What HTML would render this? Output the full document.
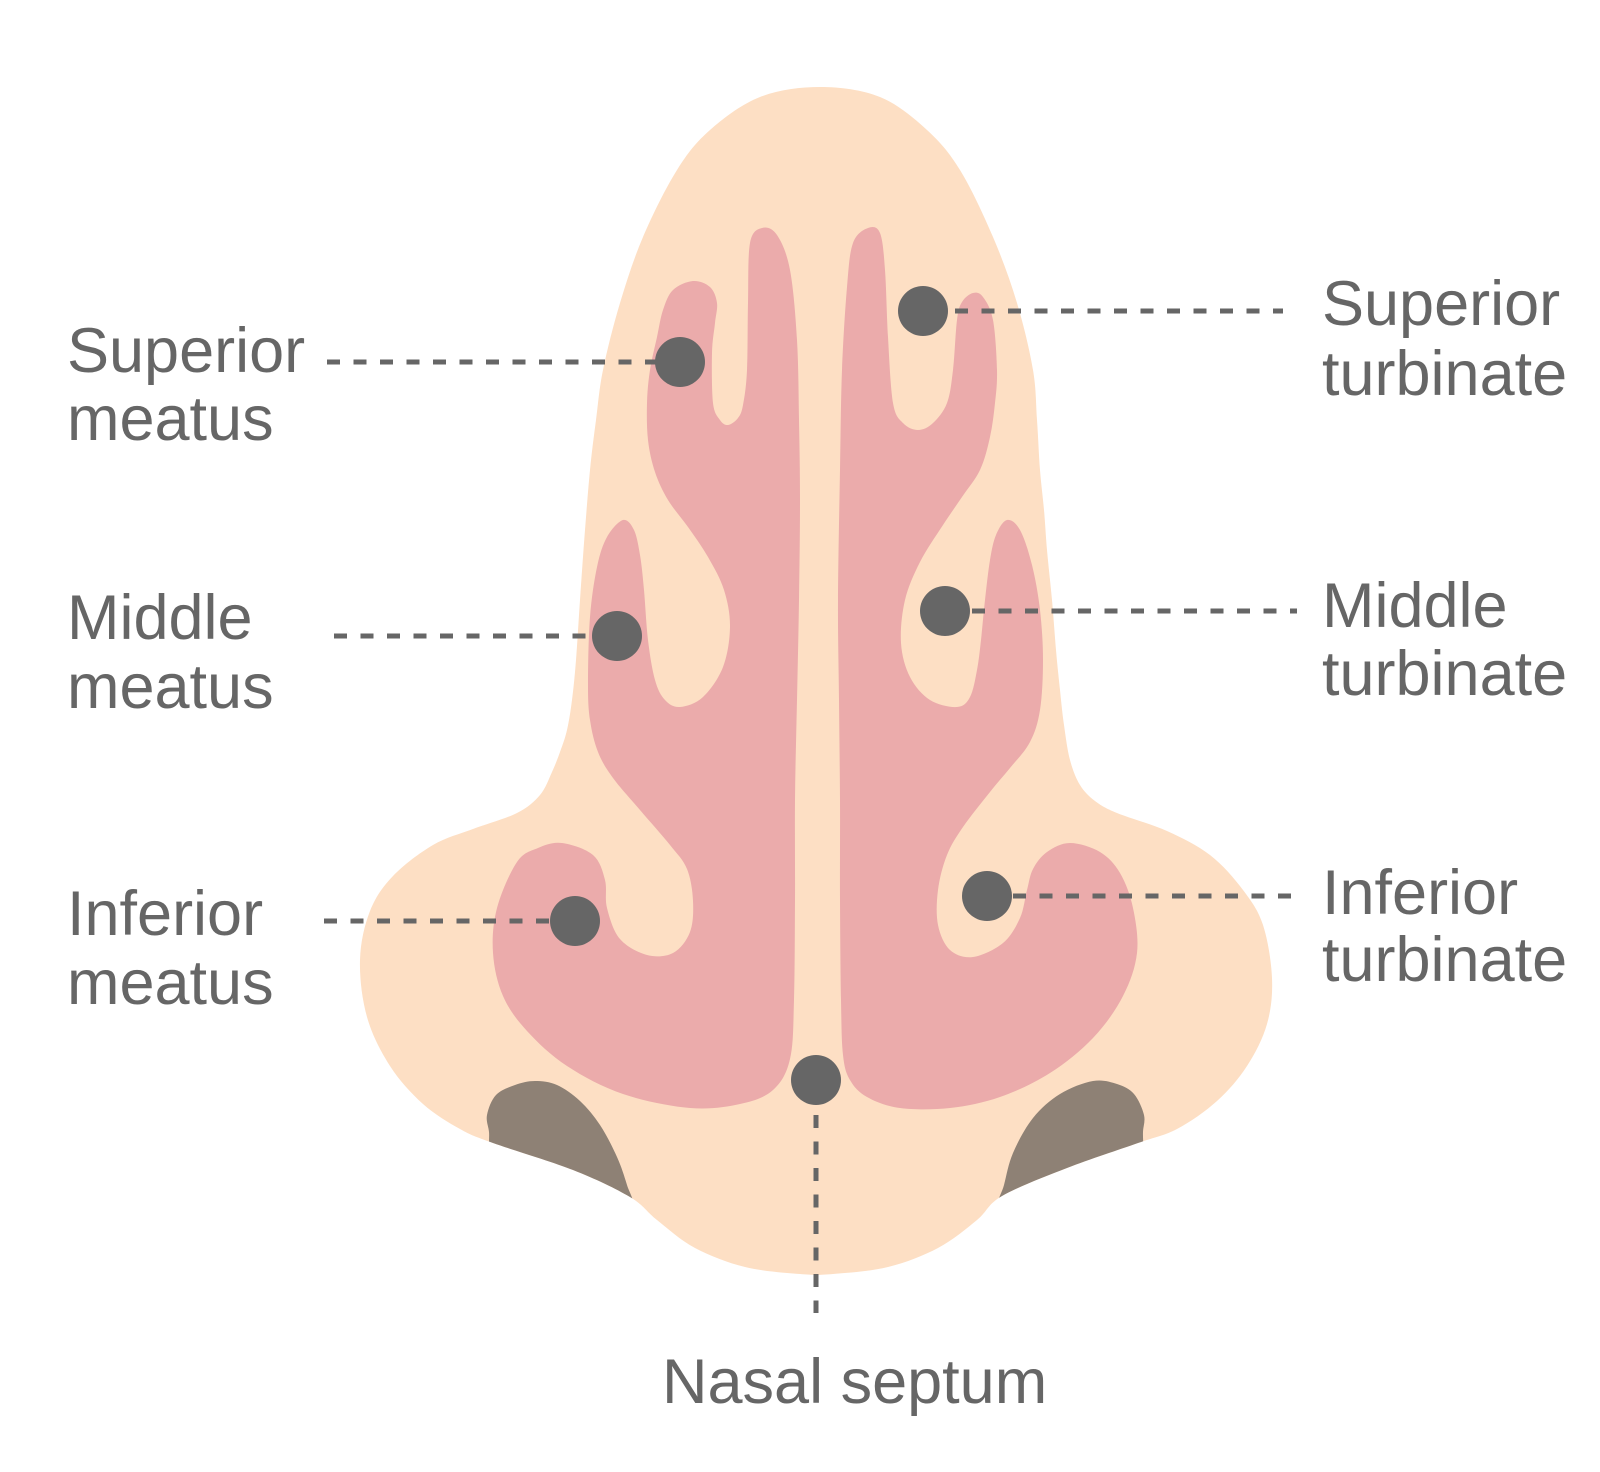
<!DOCTYPE html>
<html>
<head>
<meta charset="utf-8">
<style>
  html,body{margin:0;padding:0;background:#ffffff;width:1600px;height:1472px;overflow:hidden;}
  svg{display:block;}
  text{font-family:"Liberation Sans","DejaVu Sans",sans-serif;fill:#666666;font-size:63px;}
</style>
</head>
<body>
<svg width="1600" height="1472" viewBox="0 0 1600 1472" xmlns="http://www.w3.org/2000/svg">
  <defs>
    <clipPath id="nc">
      <path class="smooth" d="M820,87 L880,97 L927,130 L960,170 L993,237 L1017,303 L1033,370 L1037,420 L1040,470 L1044,510 L1047,550 L1052,600 L1056,650 L1060,690 L1064,725 L1070,760 L1080,785 L1095,801 L1117,813 L1167,831 L1210,855 L1243,890 L1263,925 L1272,978 L1267,1024 L1247,1066 L1217,1101 L1177,1129 L1138,1143 L1067,1168 L1002,1196 L977,1220 L938,1248 L888,1267 L833,1274 L800,1274 L745,1267 L695,1248 L657,1220 L630,1197 L573,1170 L493,1143 L460,1129 L423,1104 L390,1066 L367,1017 L360,960 L370,911 L393,876 L433,845 L473,829 L517,813 L540,795 L552,772 L560,752 L567,730 L572,700 L576,660 L580,600 L585,530 L590,470 L596,420 L603,370 L620,303 L643,237 L677,170 L710,130 L760,97 Z"/>
    </clipPath>
  </defs>

  <!-- outer nose -->
  <path class="smooth" fill="#FDDFC4" d="M820,87 L880,97 L927,130 L960,170 L993,237 L1017,303 L1033,370 L1037,420 L1040,470 L1044,510 L1047,550 L1052,600 L1056,650 L1060,690 L1064,725 L1070,760 L1080,785 L1095,801 L1117,813 L1167,831 L1210,855 L1243,890 L1263,925 L1272,978 L1267,1024 L1247,1066 L1217,1101 L1177,1129 L1138,1143 L1067,1168 L1002,1196 L977,1220 L938,1248 L888,1267 L833,1274 L800,1274 L745,1267 L695,1248 L657,1220 L630,1197 L573,1170 L493,1143 L460,1129 L423,1104 L390,1066 L367,1017 L360,960 L370,911 L393,876 L433,845 L473,829 L517,813 L540,795 L552,772 L560,752 L567,730 L572,700 L576,660 L580,600 L585,530 L590,470 L596,420 L603,370 L620,303 L643,237 L677,170 L710,130 L760,97 Z"/>

  <!-- left pink -->
  <path class="smooth" fill="#EBABAB" d="M762,228 L777,235 L790,270 L797,340 L799,420 L800,500 L799,600 L797,700 L795,800 L795,900 L794,1000 L790,1059 L773,1090 L740,1104 L690,1108 L623,1094 L567,1066 L527,1031 L503,996 L493,953 L497,908 L517,862 L538,848 L562,843 L593,855 L605,880 L607,908 L620,939 L647,955 L673,953 L690,932 L693,901 L687,869 L670,845 L640,810 L613,778 L598,752 L590,720 L588,683 L590,617 L597,567 L607,537 L623,520 L634,530 L640,555 L644,590 L648,640 L655,680 L665,700 L680,707 L703,697 L723,667 L730,627 L724,590 L708,557 L688,527 L668,500 L655,472 L648,440 L647,403 L650,370 L657,337 L663,310 L673,290 L693,281 L710,287 L717,303 L715,323 L712,353 L713,403 L720,420 L728,425 L738,418 L743,405 L747,370 L748,303 L750,243 Z"/>

  <!-- right pink -->
  <path class="smooth" fill="#EBABAB" d="M868,228 L880,233 L885,270 L888,337 L893,403 L903,423 L918,430 L933,423 L947,403 L953,370 L957,320 L962,302 L973,293 L983,297 L993,320 L997,370 L995,403 L990,437 L980,470 L962,497 L943,525 L920,562 L905,600 L901,643 L910,677 L930,700 L957,707 L970,697 L977,670 L981,640 L985,600 L990,560 L996,535 L1007,520 L1020,530 L1032,565 L1040,610 L1043,660 L1040,710 L1030,742 L1010,768 L990,792 L963,827 L947,855 L938,890 L938,925 L950,950 L973,957 L1003,943 L1020,918 L1027,890 L1033,869 L1047,852 L1070,843 L1100,852 L1120,873 L1133,908 L1137,953 L1123,996 L1093,1038 L1050,1073 L1000,1097 L950,1108 L900,1108 L867,1097 L850,1080 L843,1055 L841,1000 L840,900 L840,800 L839,700 L838,600 L840,470 L842,370 L847,287 L853,243 Z"/>

  <!-- nostrils (clipped to nose) -->
  <g clip-path="url(#nc)">
    <path class="smooth" fill="#8E8175" d="M487,1115 L496,1095 L515,1085 L535,1081 L557,1085 L580,1101 L600,1125 L617,1157 L627,1185 L633,1210 L610,1235 L500,1180 L490,1150 L489,1132 Z"/>
    <path class="smooth" fill="#8E8175" d="M1144,1115 L1134,1094 L1117,1084 L1093,1081 L1060,1094 L1033,1118 L1013,1153 L1004,1185 L998,1210 L1020,1235 L1140,1180 L1143,1150 L1143,1132 Z"/>
  </g>

  <!-- dashed leader lines -->
  <g stroke="#666666" stroke-width="5" stroke-dasharray="13 13.5" fill="none">
    <line x1="327" y1="362" x2="670" y2="362"/>
    <line x1="334" y1="636" x2="605" y2="636"/>
    <line x1="324" y1="921" x2="562" y2="921"/>
    <line x1="955" y1="311" x2="1283" y2="311"/>
    <line x1="972" y1="611" x2="1297" y2="611"/>
    <line x1="1013" y1="896" x2="1292" y2="896"/>
    <line x1="816" y1="1115" x2="816" y2="1313"/>
  </g>

  <!-- dots -->
  <g fill="#666666">
    <circle cx="680" cy="362" r="25"/>
    <circle cx="923" cy="311" r="25"/>
    <circle cx="617" cy="636" r="25"/>
    <circle cx="945" cy="611" r="25"/>
    <circle cx="575" cy="921" r="25"/>
    <circle cx="987" cy="896" r="25"/>
    <circle cx="816" cy="1080" r="25"/>
  </g>

  <!-- labels -->
  <text x="67" y="372">Superior</text>
  <text x="67" y="440">meatus</text>
  <text x="67" y="639">Middle</text>
  <text x="67" y="708">meatus</text>
  <text x="67" y="935">Inferior</text>
  <text x="67" y="1004">meatus</text>

  <text x="1322" y="325">Superior</text>
  <text x="1322" y="395">turbinate</text>
  <text x="1322" y="627">Middle</text>
  <text x="1322" y="695">turbinate</text>
  <text x="1322" y="914">Inferior</text>
  <text x="1322" y="981">turbinate</text>

  <text x="662" y="1403">Nasal septum</text>
</svg>
<script>
(function(){
  var els = document.querySelectorAll('path.smooth');
  for (var k=0;k<els.length;k++){
    var el = els[k];
    var nums = el.getAttribute('d').match(/-?\d+(\.\d+)?/g).map(Number);
    var pts = [];
    for (var i=0;i+1<nums.length;i+=2) pts.push([nums[i],nums[i+1]]);
    var n = pts.length;
    var d = 'M'+pts[0][0]+','+pts[0][1];
    for (var j=0;j<n;j++){
      var p0=pts[(j-1+n)%n], p1=pts[j], p2=pts[(j+1)%n], p3=pts[(j+2)%n];
      var c1x=p1[0]+(p2[0]-p0[0])/6, c1y=p1[1]+(p2[1]-p0[1])/6;
      var c2x=p2[0]-(p3[0]-p1[0])/6, c2y=p2[1]-(p3[1]-p1[1])/6;
      d+=' C'+c1x.toFixed(1)+','+c1y.toFixed(1)+' '+c2x.toFixed(1)+','+c2y.toFixed(1)+' '+p2[0]+','+p2[1];
    }
    el.setAttribute('d', d+' Z');
  }
})();
</script>
</body>
</html>
